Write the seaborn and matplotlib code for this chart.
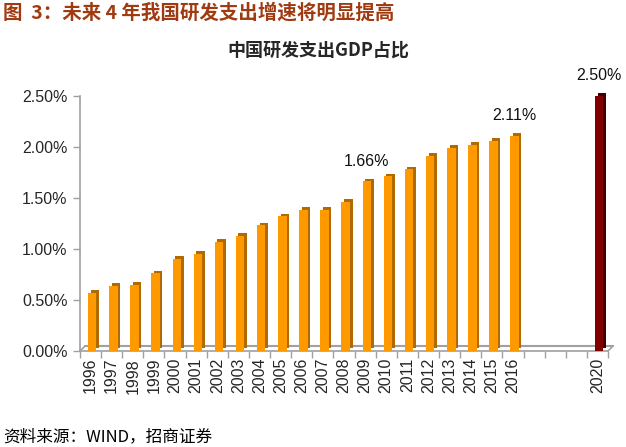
import numpy as np
import pandas as pd
import matplotlib
matplotlib.use("Agg")
import matplotlib.pyplot as plt
import seaborn as sns
from matplotlib.transforms import ScaledTranslation
from matplotlib.patches import Rectangle

# ---- data ----
years = ["1996", "1997", "1998", "1999", "2000", "2001", "2002", "2003", "2004",
         "2005", "2006", "2007", "2008", "2009", "2010", "2011", "2012", "2013",
         "2014", "2015", "2016", "2017", "2018", "2019", "2020"]
values = [0.57, 0.64, 0.65, 0.76, 0.90, 0.95, 1.07, 1.13, 1.23,
          1.32, 1.38, 1.38, 1.46, 1.66, 1.71, 1.78, 1.91, 1.99,
          2.02, 2.06, 2.11, np.nan, np.nan, np.nan, 2.50]
kinds = ["实际"] * 24 + ["目标"]
tick_labels = [y if y not in ("2017", "2018", "2019") else "" for y in years]
label_years = ["2009", "2016", "2020"]
y_ticks = [0.0, 0.5, 1.0, 1.5, 2.0, 2.5]

fig_title = "图  3：未来 4 年我国研发支出增速将明显提高"
chart_title = "中国研发支出GDP占比"
source = "资料来源：WIND，招商证券"

front = {"实际": "#FF9900", "目标": "#800000"}
side = {"实际": "#B06A00", "目标": "#400000"}

sns.set_theme(style="white")
plt.rcParams["font.family"] = ["Liberation Sans", "Noto Sans CJK SC", "DejaVu Sans"]

df = pd.DataFrame({"year": years, "value": values, "kind": kinds}).dropna()

fig = plt.figure(figsize=(6.26, 4.47), dpi=100)
ax = fig.add_axes([80 / 626, 1 - 351 / 447, (608 - 80) / 626, (351 - 95.7) / 447])

sns.barplot(data=df, x="year", y="value", hue="kind", order=years,
            palette=front, dodge=False, width=0.40, legend=False,
            saturation=1, ax=ax, zorder=3)

ax.set_xlim(-0.5, len(years) - 0.5)
ax.set_ylim(0, 2.5)

# 3D-like depth: shifted dark copy behind each bar
d = 2.6 / 100
shift = ax.transData + ScaledTranslation(d, d, fig.dpi_scale_trans)
for p in list(ax.patches):
    h = p.get_height()
    if not np.isfinite(h) or h == 0:
        continue
    p.set_x(p.get_x() + 0.08)
    k = "目标" if abs(h - 2.50) < 1e-9 else "实际"
    r = Rectangle((p.get_x(), 0), p.get_width(), h, transform=shift,
                  facecolor=side[k], edgecolor="none", zorder=2.5, clip_on=False)
    ax.add_patch(r)
    p.set_edgecolor("none")
    p.set_clip_on(False)

# floor back edge
fd = 5 / 100
floor_shift = ax.transData + ScaledTranslation(fd, fd, fig.dpi_scale_trans)
x0, x1 = -0.5, len(years) - 0.5
ax.plot([x0, x1], [0, 0], transform=floor_shift, color="#A0A0A0", lw=1.5,
        zorder=2, clip_on=False)
for xx in (x0, x1):
    ax.annotate("", xy=(xx, 0), xytext=(5, 5), textcoords="offset pixels",
                xycoords="data",
                arrowprops=dict(arrowstyle="-", color="#A0A0A0", lw=1.2,
                                shrinkA=0, shrinkB=0))

# axes styling
for s in ("top", "right"):
    ax.spines[s].set_visible(False)
for s in ("left", "bottom"):
    ax.spines[s].set_color("#A0A0A0")
    ax.spines[s].set_linewidth(1.2)

ax.set_yticks(y_ticks)
ax.set_yticklabels([f"{v:.2f}%" for v in y_ticks], fontsize=11.5)
ax.tick_params(axis="y", direction="out", length=5, color="#A0A0A0", width=1,
               left=True, pad=4)

ax.set_xticks(range(len(years)))
ax.set_xticklabels(tick_labels, rotation=90, fontsize=11.5)
ax.set_xticks(np.arange(-0.5, len(years), 1), minor=True)
ax.tick_params(axis="x", which="major", length=0, pad=5)
ax.tick_params(axis="x", which="minor", direction="out", length=5,
               color="#A0A0A0", width=1, bottom=True)
ax.set_xlabel("")
ax.set_ylabel("")
ax.grid(False)

# data labels
for yr in label_years:
    i = years.index(yr)
    v = values[i]
    ax.annotate(f"{v:.2f}%", xy=(i, v), xytext=(1, 9), textcoords="offset points",
                ha="center", va="bottom", fontsize=11.5, color="#111111")

fig.text(318 / 626, 1 - 50 / 447, chart_title, ha="center", va="center",
         fontsize=13, fontweight="bold", family=["Noto Sans CJK SC"])
fig.text(3 / 626, 1 - 13 / 447, fig_title, ha="left", va="center",
         fontsize=14, fontweight="bold", color="#A03A10",
         family=["Noto Sans CJK SC", "DejaVu Sans"])
fig.text(3 / 626, 1 - 437 / 447, source, ha="left", va="center",
         fontsize=12, color="black", family=["Noto Sans CJK SC", "DejaVu Sans"])

fig.savefig("out.png", dpi=100)
